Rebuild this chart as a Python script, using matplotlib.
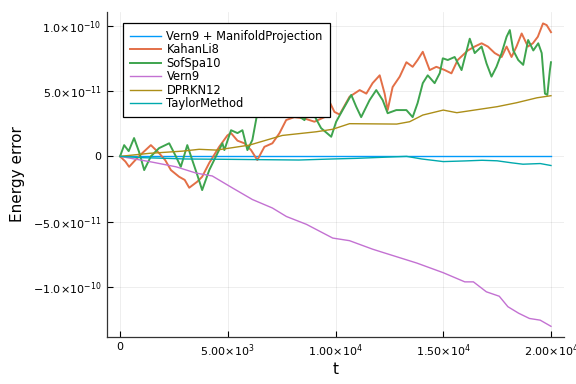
import numpy as np
import matplotlib
matplotlib.use("Agg")
import matplotlib.pyplot as plt

# energy error values, in units of 1e-12
t_blue = [0, 20000]
e_blue = [0, 0]

t_kahan = [0, 250, 420, 700, 1000, 1430, 1810, 2100, 2360, 2740, 3000, 3210, 3580, 3810,
           4140, 4600, 4980, 5150, 5450, 5770, 6080, 6370, 6700, 7070, 7400, 7710, 8090,
           8560, 9020, 9490, 9720, 9950, 10190, 10650, 11120, 11430, 11720, 12050, 12280,
           12420, 12650, 12980, 13290, 13580, 13810, 14050, 14370, 14680, 15070, 15380,
           15670, 16140, 16460, 16780, 17070, 17390, 17710, 17940, 18170, 18400, 18640,
           18930, 19160, 19390, 19630, 19800, 20000]
e_kahan = [0, -4, -8, -3, 2, 8.6, 2.5, -3, -10.5, -15.6, -18, -24, -19.4, -15.6,
           -5, 7.3, 16, 17.8, 12, 10, 4.8, -2.8, 7.3, 10, 17.8, 27.8, 30,
           29, 26.5, 30, 41.8, 34, 32, 45.6, 50.7, 48, 56, 62, 48,
           35.4, 53, 61, 72, 68.5, 73.7, 80, 66, 68.5, 66, 63.5,
           73.7, 81, 84, 86.5, 84, 79, 76, 84, 76, 84, 94,
           84, 86.5, 91.5, 101.7, 100.4, 95]

t_sofspa = [0, 190, 400, 650, 880, 1120, 1430, 1810, 2280, 2590, 2820, 3120, 3350, 3600,
            3810, 4140, 4450, 4750, 4840, 5150, 5450, 5680, 5910, 6140, 6370, 6540, 6700,
            7200, 7710, 8100, 8560, 8790, 9330, 9800, 10030, 10330, 10730, 10960, 11190,
            11580, 11890, 12190, 12420, 12820, 13290, 13580, 13810, 14050, 14280, 14600,
            14840, 14980, 15210, 15530, 15850, 16230, 16460, 16780, 17010, 17240, 17470,
            17710, 17940, 18090, 18250, 18480, 18710, 18940, 19180, 19410, 19570, 19720,
            19830, 19950, 20000]
e_sofspa = [0, 8.6, 4, 14, 3.5, -10.5, 0, 6.3, 10, 0, -8, 8.6, -2.8, -15,
            -25.8, -10.5, 0, 10, 4.8, 20, 17.8, 20, 4.8, 12.5, 33, 39, 30,
            40, 38, 33, 27.7, 38, 21.6, 15, 26.5, 35.4, 47, 38, 30,
            43, 50.7, 43, 33, 35.4, 35.4, 30, 40.8, 56, 62, 56,
            63.7, 75, 73.7, 76, 66, 90, 79, 84, 71, 61, 68.5,
            79, 91.5, 96.6, 81, 73.7, 70, 89, 81, 86.5, 79, 48,
            47, 66, 72]

t_vern9 = [0, 500, 1490, 2600, 3530, 4280, 5200, 6140, 7070, 7720, 8650, 9870, 10650,
           11720, 12200, 13770, 15000, 16000, 16400, 17000, 17600, 18000, 18500, 19000,
           19500, 20000]
e_vern9 = [0, -1.5, -4.4, -8, -12.8, -15, -24, -33, -39.5, -46, -52, -62.5, -64.5,
           -71, -73.5, -81.6, -89, -96, -96, -103.6, -107, -115, -120, -124,
           -125.3, -130]

t_dprkn = [0, 1350, 2900, 3670, 4470, 6000, 7530, 9100, 9860, 10650, 12840, 13440,
           14050, 15000, 15630, 17500, 18400, 19350, 20000]
e_dprkn = [0, 2.3, 4, 5.4, 4.8, 8.6, 16, 18.8, 20.7, 25, 24.7, 26.5,
           31.6, 35.4, 33.4, 38, 41, 44.8, 46.4]

t_taylor = [0, 1000, 2140, 3000, 5200, 8300, 9860, 11000, 12500, 13300, 14000, 15000,
            16000, 16800, 17500, 18200, 18700, 19500, 20000]
e_taylor = [0, -1, -1.5, -2, -2.3, -2.8, -2, -1.5, -0.5, 0, -2, -4,
            -3.5, -3, -3.4, -5, -6, -5.5, -7]

series = [
    ("Vern9 + ManifoldProjection", t_blue, e_blue, "#009AFA"),
    ("KahanLi8", t_kahan, e_kahan, "#E36F47"),
    ("SofSpa10", t_sofspa, e_sofspa, "#3EA44E"),
    ("Vern9", t_vern9, e_vern9, "#C371D2"),
    ("DPRKN12", t_dprkn, e_dprkn, "#AC8E18"),
    ("TaylorMethod", t_taylor, e_taylor, "#00A9AD"),
]

x_ticks = [0, 5000, 10000, 15000, 20000]
x_labels = ["0", r"5.00$\times10^{3}$", r"1.00$\times10^{4}$",
            r"1.50$\times10^{4}$", r"2.00$\times10^{4}$"]
y_ticks = [1e-10, 5e-11, 0, -5e-11, -1e-10]
y_labels = [r"1.0$\times10^{-10}$", r"5.0$\times10^{-11}$", "0",
            r"$-$5.0$\times10^{-11}$", r"$-$1.0$\times10^{-10}$"]

fig = plt.figure(figsize=(5.76, 3.84), dpi=100)
ax = fig.add_axes([0.186, 0.123, 0.793, 0.846])

for name, t, e, c in series:
    lw = 1.4 if name in ("KahanLi8", "SofSpa10") else 1.0
    ax.plot(t, np.array(e) * 1e-12, color=c, lw=lw, label=name)

ax.set_xlim(-600, 20600)
ax.set_ylim(-138e-12, 110.5e-12)
ax.set_xticks(x_ticks)
ax.set_xticklabels(x_labels)
ax.set_yticks(y_ticks)
ax.set_yticklabels(y_labels)
ax.tick_params(direction="in", length=4, width=0.8, labelsize=8, pad=4)
ax.grid(True, color="black", alpha=0.08, lw=0.6)
for s in ("top", "right"):
    ax.spines[s].set_visible(False)
for s in ("left", "bottom"):
    ax.spines[s].set_linewidth(0.9)
    ax.spines[s].set_color("#333333")

ax.set_xlabel("t", fontsize=11, labelpad=2)
ax.set_ylabel("Energy error", fontsize=11, labelpad=6)

leg = ax.legend(loc="upper left", bbox_to_anchor=(0.034, 0.967), borderaxespad=0,
                fontsize=8.3, fancybox=False, framealpha=1, edgecolor="black",
                handlelength=2.7, labelspacing=0.05, borderpad=0.6, handletextpad=0.5)
leg.get_frame().set_linewidth(0.9)

fig.savefig("out.png", dpi=100)
